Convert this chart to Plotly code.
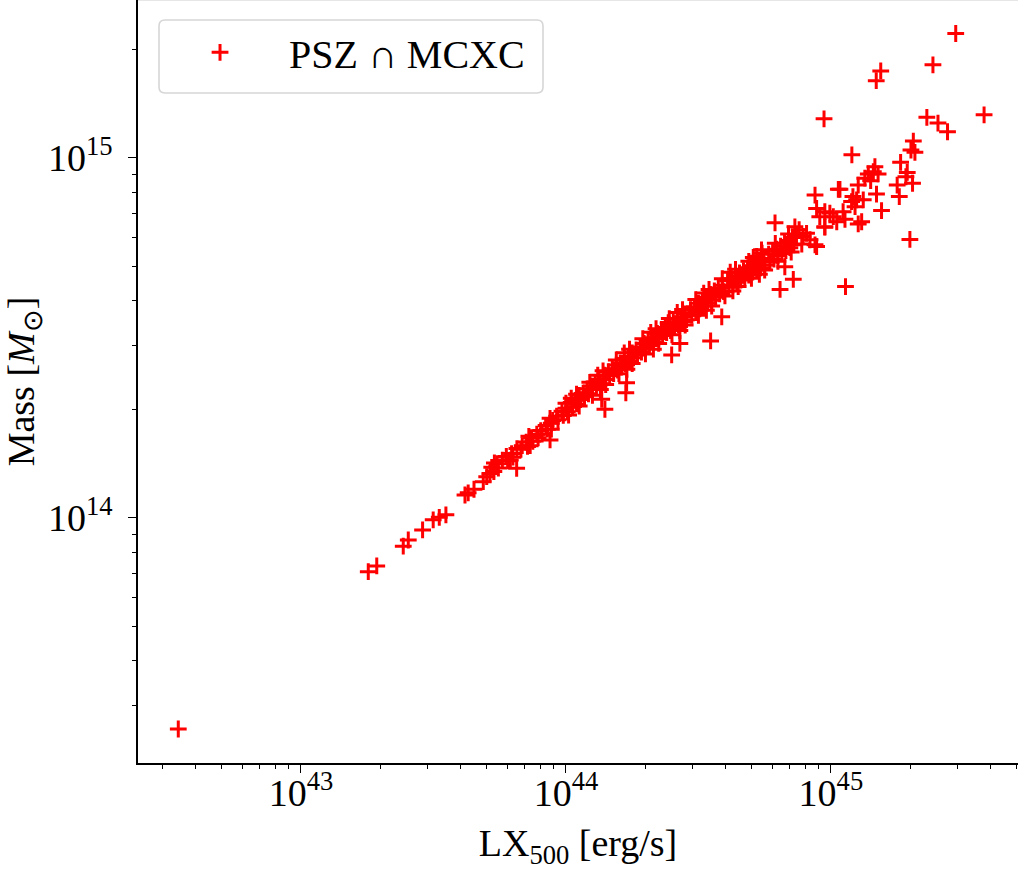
import numpy as np
import plotly.graph_objects as go

# ---- data: log10 values ----
# isolated / sparse points
sparse_log_lx = [42.537, 43.254, 43.286, 43.386, 43.405, 43.459, 43.499, 43.522, 43.547, 43.619, 43.631, 43.653, 43.688, 43.701, 43.713,
                 43.814, 43.940, 44.135, 44.147, 44.226, 44.229, 44.399, 44.430, 44.546, 44.588, 44.808, 44.858, 45.055, 45.298, 44.386,
                 44.789, 44.864, 44.940, 45.028, 44.977, 44.946, 44.826, 44.738, 44.707,
                 45.471, 45.385, 45.188, 45.171, 44.974, 45.362, 45.404, 45.440, 45.578, 45.311, 45.302, 45.317, 45.079, 45.263, 45.288, 45.283, 45.308, 45.250, 45.258,
                 45.166, 45.178, 45.141, 45.128, 45.150, 45.160, 45.103, 45.034, 45.172, 45.083, 45.078, 45.097, 45.122, 45.091, 45.191,
                 44.946, 44.977, 44.996, 44.958, 45.009, 45.046, 45.053, 45.022, 45.103, 45.116, 44.977, 44.908, 44.921, 44.895, 44.940]
sparse_log_mass = [13.413, 13.850, 13.866, 13.921, 13.938, 13.966, 13.994, 14.001, 14.008, 14.063, 14.069, 14.079, 14.100, 14.114, 14.123,
                   14.137, 14.216, 14.329, 14.301, 14.347, 14.375, 14.452, 14.484, 14.491, 14.558, 14.634, 14.662, 14.642, 14.773, 14.542,
                   14.819, 14.808, 14.896, 14.912, 14.808, 14.753, 14.697, 14.744, 14.723,
                   15.345, 15.258, 15.241, 15.214, 15.108, 15.112, 15.096, 15.072, 15.119, 15.046, 15.021, 15.015, 15.008, 14.987, 14.959, 14.947, 14.929, 14.924, 14.892,
                   14.975, 14.955, 14.955, 14.943, 14.936, 14.961, 14.924, 14.912, 14.899, 14.892, 14.878, 14.883, 14.883, 14.864, 14.853,
                   14.859, 14.850, 14.846, 14.836, 14.836, 14.850, 14.829, 14.822, 14.816, 14.822, 14.807, 14.790, 14.772, 14.781, 14.758]

# dense band, (log10 LX, log10 M) pairs
band_a = [(43.72, 14.140), (43.728, 14.128), (43.74, 14.150), (43.745, 14.138), (43.76, 14.160), (43.775, 14.170),
          (43.78, 14.158), (43.795, 14.178), (43.80, 14.168), (43.815, 14.192), (43.83, 14.190), (43.835, 14.200),
          (43.85, 14.210), (43.855, 14.198), (43.87, 14.222), (43.875, 14.212),
          (43.73, 14.152), (43.79, 14.160), (43.86, 14.226), (43.865, 14.200)]
band_b = [(43.89, 14.232), (43.895, 14.222), (43.905, 14.242), (43.91, 14.232), (43.925, 14.256), (43.93, 14.246),
          (43.945, 14.262), (43.95, 14.270), (43.965, 14.282), (43.97, 14.272), (43.985, 14.296), (43.99, 14.284),
          (44.0, 14.304), (44.005, 14.294), (43.94, 14.276), (43.945, 14.246), (44.00, 14.318), (44.01, 14.285)]
band_c = [(44.02, 14.320), (44.025, 14.308), (44.035, 14.326), (44.04, 14.316), (44.05, 14.340), (44.055, 14.328),
          (44.065, 14.346), (44.07, 14.336), (44.08, 14.358), (44.085, 14.344), (44.095, 14.366), (44.10, 14.356),
          (44.11, 14.376), (44.115, 14.362), (44.125, 14.384), (44.13, 14.372),
          (44.04, 14.343), (44.05, 14.310), (44.09, 14.376), (44.10, 14.340),
          (44.02, 14.332), (44.12, 14.396), (44.13, 14.356)]
band_d = [(44.145, 14.396), (44.15, 14.384), (44.16, 14.406), (44.165, 14.394), (44.175, 14.414), (44.18, 14.400),
          (44.19, 14.424), (44.195, 14.410), (44.205, 14.430), (44.21, 14.418), (44.22, 14.442), (44.225, 14.428),
          (44.235, 14.448), (44.24, 14.436), (44.25, 14.458), (44.255, 14.444), (44.265, 14.466), (44.27, 14.452),
          (44.28, 14.474), (44.285, 14.460), (44.295, 14.484), (44.30, 14.470), (44.31, 14.492), (44.315, 14.478),
          (44.325, 14.500), (44.33, 14.488),
          (44.14, 14.408), (44.15, 14.370), (44.19, 14.438), (44.20, 14.400), (44.24, 14.468), (44.25, 14.428),
          (44.29, 14.497), (44.30, 14.455), (44.22, 14.458), (44.23, 14.412), (44.32, 14.515), (44.33, 14.468)]
band_e = [(44.345, 14.512), (44.35, 14.498), (44.36, 14.520), (44.365, 14.506), (44.375, 14.528), (44.38, 14.514),
          (44.39, 14.536), (44.395, 14.520), (44.405, 14.544), (44.41, 14.528), (44.42, 14.552), (44.425, 14.536),
          (44.435, 14.558), (44.44, 14.544), (44.45, 14.566), (44.455, 14.550),
          (44.34, 14.525), (44.35, 14.484), (44.39, 14.553), (44.40, 14.508), (44.44, 14.578), (44.45, 14.535),
          (44.42, 14.570), (44.43, 14.520)]
band_f = [(44.47, 14.578), (44.475, 14.562), (44.485, 14.586), (44.49, 14.570), (44.50, 14.596), (44.505, 14.580),
          (44.515, 14.604), (44.52, 14.588), (44.53, 14.612), (44.535, 14.596), (44.545, 14.620), (44.55, 14.604),
          (44.56, 14.630), (44.565, 14.612), (44.575, 14.638), (44.58, 14.622), (44.59, 14.646), (44.595, 14.628),
          (44.49, 14.606), (44.50, 14.562), (44.54, 14.634), (44.55, 14.588), (44.59, 14.664), (44.60, 14.616),
          (44.52, 14.624), (44.53, 14.576)]
band_g = [(44.61, 14.658), (44.615, 14.640), (44.625, 14.664), (44.63, 14.646), (44.64, 14.672), (44.645, 14.654),
          (44.655, 14.680), (44.66, 14.660), (44.67, 14.686), (44.675, 14.668), (44.685, 14.694), (44.69, 14.674),
          (44.70, 14.700), (44.705, 14.682), (44.715, 14.708), (44.72, 14.688), (44.73, 14.714), (44.735, 14.694),
          (44.745, 14.720), (44.75, 14.702),
          (44.64, 14.690), (44.65, 14.642), (44.69, 14.712), (44.70, 14.665), (44.74, 14.735), (44.75, 14.688),
          (44.62, 14.682), (44.63, 14.630), (44.72, 14.726), (44.73, 14.676)]
band_h = [(44.765, 14.732), (44.77, 14.710), (44.78, 14.740), (44.785, 14.718), (44.795, 14.746), (44.80, 14.728),
          (44.81, 14.754), (44.815, 14.734), (44.825, 14.762), (44.83, 14.742), (44.84, 14.770), (44.845, 14.750),
          (44.855, 14.778), (44.86, 14.758), (44.87, 14.784),
          (44.79, 14.762), (44.80, 14.712), (44.84, 14.788), (44.85, 14.738), (44.88, 14.800), (44.89, 14.760)]

x_tick_vals = [1e43, 1e44, 1e45]
x_tick_text = ["10<sup>43</sup>", "10<sup>44</sup>", "10<sup>45</sup>"]
y_tick_vals = [1e14, 1e15]
y_tick_text = ["10<sup>14</sup>", "10<sup>15</sup>"]

band = band_a + band_b + band_c + band_d + band_e + band_f + band_g + band_h
log_lx = np.array(sparse_log_lx + [p[0] for p in band])
log_mass = np.array(sparse_log_mass + [p[1] for p in band])

FONT = "Liberation Serif"
fig = go.Figure()
fig.add_trace(go.Scatter(
    x=10 ** log_lx, y=10 ** log_mass, mode="markers", name="PSZ \u2229 MCXC",
    marker=dict(symbol="cross-thin", size=12, color="#ff0000", line=dict(color="#ff0000", width=3)),
))

fig.update_layout(
    width=1018, height=871,
    margin=dict(l=138, r=0, t=0, b=108),
    paper_bgcolor="white", plot_bgcolor="white",
    font=dict(family=FONT, size=38, color="black"),
    showlegend=True,
    legend=dict(x=0.0148, y=0.974, xanchor="left", yanchor="top", bgcolor="rgba(0,0,0,0)",
                borderwidth=0, font=dict(size=40, family=FONT), itemwidth=128),
)
fig.update_xaxes(
    type="log", range=[42.385, 45.706], showline=True, linecolor="black", linewidth=1.6,
    ticks="outside", ticklen=8, tickwidth=1.2, tickcolor="black",
    tickmode="array", tickvals=x_tick_vals, ticktext=x_tick_text, ticklabelstandoff=-12,
    showgrid=False, zeroline=False,
    minor=dict(ticks="outside", ticklen=4.5, tickwidth=1, tickcolor="black", dtick="D1", showgrid=False),
    title=dict(text="LX<sub>500</sub> [erg/s]", standoff=16, font=dict(size=38)),
)
fig.update_yaxes(
    type="log", range=[13.3186, 15.438], showline=True, linecolor="black", linewidth=1.6,
    ticks="outside", ticklen=8, tickwidth=1.2, tickcolor="black",
    tickmode="array", tickvals=y_tick_vals, ticktext=y_tick_text, ticklabelstandoff=8,
    showgrid=False, zeroline=False,
    minor=dict(ticks="outside", ticklen=4.5, tickwidth=1, tickcolor="black", dtick="D1", showgrid=False),
    title=dict(text="Mass [<i>M</i><sub>\u2299</sub>]", standoff=4, font=dict(size=38)),
)

# rounded legend frame (pixel offsets from the plot's top-left corner)
fig.add_shape(type="path", xref="paper", yref="paper", xsizemode="pixel", ysizemode="pixel",
              xanchor=0, yanchor=1,
              path="M 27,-20 L 399,-20 Q 405,-20 405,-26 L 405,-87 Q 405,-93 399,-93 L 27,-93 Q 21,-93 21,-87 L 21,-26 Q 21,-20 27,-20 Z",
              line=dict(color="#d6d6d6", width=1.6), fillcolor="rgba(255,255,255,0.8)", layer="above")
fig.add_shape(type="line", xref="paper", yref="paper", x0=0, x1=1, y0=1, y1=1,
              line=dict(color="#e6e6e6", width=2), layer="below")

fig.write_html("out.html", config={"displayModeBar": False},
               post_script="document.body.style.margin='0';")
